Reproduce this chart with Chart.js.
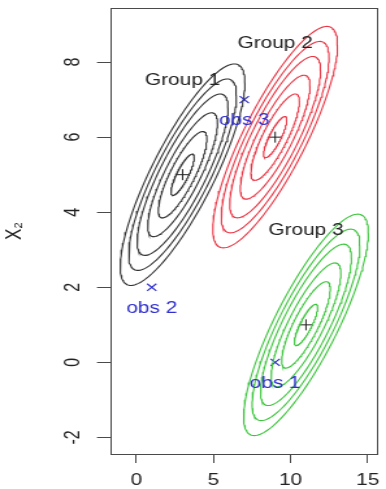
<!DOCTYPE html>
<html><head><meta charset="utf-8">
<script src="https://cdn.jsdelivr.net/npm/chart.js@4.4.1/dist/chart.umd.min.js"></script>
<style>
html,body{margin:0;padding:0;background:#fff;overflow:hidden;}
#wrap{position:absolute;left:0;top:0;width:297px;height:489px;transform:scaleX(1.2997);transform-origin:0 0;}
</style></head><body>
<div id="wrap"><canvas id="c"></canvas></div>
<script>
// ---- data ----
const groupNames  = ['Group 1', 'Group 2', 'Group 3'];
const groupMeanX  = [3, 9, 11];
const groupMeanY  = [5, 6, 1];
const groupLabelX = [3, 9, 11];
const groupLabelY = [7.5, 8.5, 3.5];
const obsNames    = ['obs 1', 'obs 2', 'obs 3'];
const obsX        = [9, 1, 7];
const obsY        = [0, 2, 7];
const contourRadii = [0.55, 1.15, 1.65, 2.15, 2.55, 2.95]; // Mahalanobis radii of the drawn contours
const sdX = 1.37, sdY = 1.0, corrXY = 0.83;                  // common covariance of the groups
const xTicks = [0, 5, 10, 15];
const yTicks = [-2, 0, 2, 4, 6, 8];

// ---- styles ----
const groupColors = ['#333333', '#ea3544', '#3cc53c'];
const obsColor = '#2f2fcf';
const FONT = '"Liberation Sans", Arial, Helvetica, sans-serif';
Chart.defaults.font.family = FONT;

function ellipsePoints(mx, my, r) {
  const pts = [], n = 160, k = Math.sqrt(1 - corrXY * corrXY);
  for (let i = 0; i <= n; i++) {
    const t = 2 * Math.PI * i / n;
    pts.push({ x: mx + r * sdX * Math.cos(t), y: my + r * sdY * (corrXY * Math.cos(t) + k * Math.sin(t)) });
  }
  return pts;
}

const datasets = [];
groupNames.forEach((g, gi) => {
  contourRadii.forEach(r => {
    datasets.push({
      label: g, data: ellipsePoints(groupMeanX[gi], groupMeanY[gi], r),
      showLine: true, borderColor: groupColors[gi], borderWidth: 1.1,
      pointRadius: 0, tension: 0, fill: false
    });
  });
});
datasets.push({
  label: 'means', data: groupMeanX.map((x, i) => ({ x, y: groupMeanY[i] })),
  pointStyle: 'cross', pointRadius: 5.5, borderColor: '#222', borderWidth: 1, showLine: false
});
datasets.push({
  label: 'obs', data: obsX.map((x, i) => ({ x, y: obsY[i] })),
  pointStyle: 'crossRot', pointRadius: 5, borderColor: obsColor, borderWidth: 1.2, showLine: false
});

const textPlugin = {
  id: 'texts',
  afterDatasetsDraw(chart) {
    const { ctx, scales: { x, y } } = chart;
    ctx.save();
    ctx.font = '16px ' + FONT;
    ctx.textAlign = 'center';
    ctx.textBaseline = 'middle';
    ctx.fillStyle = '#222';
    groupNames.forEach((g, i) => ctx.fillText(g, x.getPixelForValue(groupLabelX[i]), y.getPixelForValue(groupLabelY[i])));
    ctx.fillStyle = obsColor;
    obsNames.forEach((o, i) => ctx.fillText(o, x.getPixelForValue(obsX[i]), y.getPixelForValue(obsY[i]) + 21));
    ctx.restore();
  }
};
const boxPlugin = {
  id: 'box',
  afterDraw(chart) {
    const { ctx, chartArea: a } = chart;
    ctx.save();
    ctx.strokeStyle = '#4a4a4a';
    ctx.lineWidth = 1;
    ctx.strokeRect(Math.round(a.left) + 0.5, Math.round(a.top) + 0.5, Math.round(a.right - a.left), Math.round(a.bottom - a.top));
    ctx.restore();
  }
};

new Chart(document.getElementById('c'), {
  type: 'scatter',
  data: { datasets },
  plugins: [textPlugin, boxPlugin],
  options: {
    responsive: true, maintainAspectRatio: false, animation: false,
    layout: { padding: { top: 8, right: 2.4, left: 0, bottom: 0 } },
    plugins: { legend: { display: false }, tooltip: { enabled: false } },
    scales: {
      x: {
        type: 'linear', min: -1.64, max: 15.64,
        afterBuildTicks: s => { s.ticks = xTicks.map(v => ({ value: v })); },
        afterFit: s => { s.height = 35; s.paddingLeft = 0; s.paddingRight = 0; },
        border: { display: false },
        grid: { drawOnChartArea: false, drawTicks: true, tickLength: 9, tickColor: '#4a4a4a', tickWidth: 1 },
        ticks: { font: { size: 16 }, color: '#222', padding: 8, maxRotation: 0, autoSkip: false }
      },
      y: {
        type: 'linear', min: -2.44, max: 9.44,
        afterBuildTicks: s => { s.ticks = yTicks.map(v => ({ value: v })); },
        afterFit: s => { s.width = 85.4; s.paddingTop = 0; s.paddingBottom = 0; },
        border: { display: false },
        grid: { drawOnChartArea: false, drawTicks: true, tickLength: 10.8, tickColor: '#4a4a4a', tickWidth: 1 },
        ticks: { font: { size: 16 }, color: '#222', padding: 10.5, minRotation: 90, maxRotation: 90, crossAlign: 'center', autoSkip: false },
        title: { display: true, text: 'X\u2082', font: { size: 17 }, color: '#222', padding: { top: 1, bottom: 0 } }
      }
    }
  }
});
</script>
</body></html>
